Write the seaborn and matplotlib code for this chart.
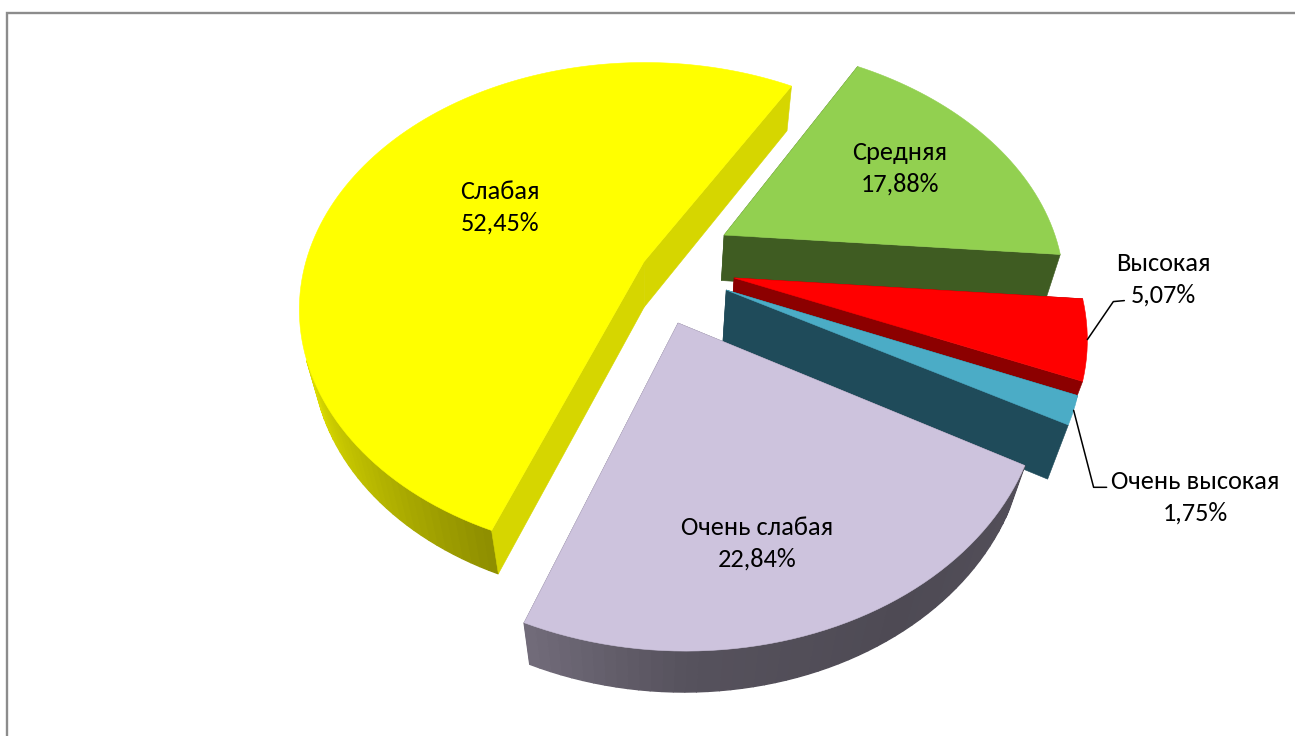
import numpy as np
import matplotlib
matplotlib.use("Agg")
import matplotlib.pyplot as plt
import seaborn as sns

sns.set_theme(style="white")
plt.rcParams["font.family"] = ["Carlito", "DejaVu Sans"]

# Shares of each class, clockwise from the first slice
categories = ["Средняя", "Высокая", "Очень высокая", "Очень слабая", "Слабая"]
shares = [17.88, 5.07, 1.75, 22.84, 52.45]

# Slice appearance
top_colors = ["#92D050", "#FF0000", "#4BACC6", "#CDC3DD", "#FFFF00"]
face_colors = ["#3F5C22", "#8C0000", "#1F4B5A", "#5A5266", "#D6D600"]
explode = [0.26, 0.26, 0.253, 0.256, 0.012]
depth = [0.1961, 0.1961, 0.24, 0.1961, 0.1961]

# Camera for the tilted pie
CX, CY, FOCAL, PERSP, TILT = 647.7, 262.84, 338.47, 0.2711, 0.7794
START = 0.5314

# Wall brightness by heading around the pie (degrees, clockwise from the back)
shade_deg = [100, 150, 180, 201, 225, 250, 280]
shade_val = [0.42, 0.38, 0.42, 0.55, 0.72, 0.88, 0.97]

# Label centres in figure pixels; callouts for the two thin slices
label_xy = [(900, 168), (1163, 279), (1195, 497), (757, 543), (500, 207)]
callouts = {1: [(26, -38), (37, -39)], 2: [(20, 77), (33, 77)]}


def project(x, y, z):
    w = 1 + PERSP * (y * np.cos(TILT) - z * np.sin(TILT))
    return CX + FOCAL * x / w, CY - FOCAL * (y * np.sin(TILT) + z * np.cos(TILT)) / w


def polygon(ax, x, y, z, color, zorder, lw=0.4):
    sx, sy = project(np.asarray(x), np.asarray(y), np.asarray(z, dtype=float))
    ax.fill(sx, sy, facecolor=color, edgecolor=color, lw=lw, zorder=zorder)


def draw_slice(ax, i, a0, a1, zorder):
    mid = (a0 + a1) / 2
    ox, oy = explode[i] * np.sin(mid), explode[i] * np.cos(mid)
    t = np.linspace(a0, a1, max(3, int(np.degrees(a1 - a0) / 1.5)))
    rx, ry = ox + np.sin(t), oy + np.cos(t)
    rgb = np.array(matplotlib.colors.to_rgb(top_colors[i]))
    h = depth[i]
    eye_y = -np.cos(TILT) / PERSP

    def cut_face(j, order):
        polygon(ax, [ox, rx[j], rx[j], ox], [oy, ry[j], ry[j], oy],
                [0, 0, -h, -h], face_colors[i], order)

    # Cut faces turned away from the viewer go underneath the outer wall
    front = {0: np.cos(a0 - np.pi / 2) < 0, -1: np.cos(a1 + np.pi / 2) < 0}
    for j in (0, -1):
        if not front[j]:
            cut_face(j, zorder)

    # Outer wall, one facet per arc step so the shading can vary;
    # facets on the far side of the pie are skipped
    for k in range(len(t) - 1):
        tm = (t[k] + t[k + 1]) / 2
        sees = np.sin(tm) * (-ox - np.sin(tm)) + np.cos(tm) * (eye_y - oy - np.cos(tm))
        if sees <= 0:
            continue
        shade = np.interp(np.degrees(tm) % 360, shade_deg, shade_val)
        polygon(ax, [rx[k], rx[k + 1], rx[k + 1], rx[k]],
                [ry[k], ry[k + 1], ry[k + 1], ry[k]],
                [0, 0, -h, -h], tuple(rgb * shade), zorder + 0.1, lw=1.0)

    for j in (0, -1):
        if front[j]:
            cut_face(j, zorder + 0.2)

    # Top surface
    polygon(ax, np.r_[ox, rx], np.r_[oy, ry], np.zeros(len(t) + 1), top_colors[i], zorder + 0.3)
    return ox, oy


fig, ax = plt.subplots(figsize=(12.95, 7.36), dpi=100)
ax.set_position([0, 0, 1, 1])
ax.set_xlim(0, 1295)
ax.set_ylim(736, 0)
ax.set_axis_off()

# Slices are painted back to front
edges = START + np.cumsum([0] + shares) / sum(shares) * 2 * np.pi
order = [4, 0, 1, 2, 3]
for rank, i in enumerate(order):
    ox, oy = draw_slice(ax, i, edges[i], edges[i + 1], zorder=2 + rank)
    if i in callouts:
        mid = (edges[i] + edges[i + 1]) / 2
        ax_x, ax_y = project(ox + np.sin(mid), oy + np.cos(mid), 0.0)
        xs = [ax_x] + [ax_x + dx for dx, _ in callouts[i]]
        ys = [ax_y] + [ax_y + dy for _, dy in callouts[i]]
        ax.plot(xs, ys, color="black", lw=1.1, zorder=10)

# Two-line labels: class name and its share with a decimal comma
for name, share, (lx, ly) in zip(categories, shares, label_xy):
    ax.text(lx, ly, f"{name}\n{share:.2f}%".replace(".", ","), ha="center", va="center",
            fontsize=19, linespacing=1.46, color="black", zorder=11)

# Chart frame: only the top and left sides fall inside the canvas
ax.plot([7.3, 7.3, 1295], [736, 13, 13], color="#8C8C8C", lw=1.7, zorder=1,
        solid_joinstyle="miter", clip_on=True)

fig.savefig("out.png", dpi=100)
